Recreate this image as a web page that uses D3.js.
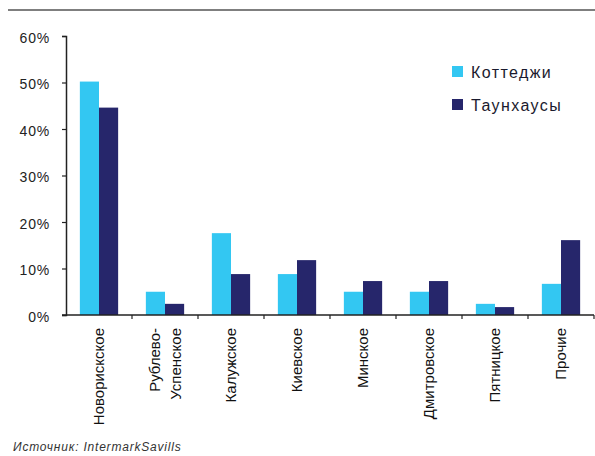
<!DOCTYPE html>
<html>
<head>
<meta charset="utf-8">
<script src="https://cdn.jsdelivr.net/npm/d3@7"></script>
<style>
  html, body { margin: 0; padding: 0; background: #fff; }
  svg { display: block; font-family: Arial, "Liberation Sans", sans-serif; }
</style>
</head>
<body>
<svg id="chart" width="595" height="456"></svg>
<script>
// Directions (highways) around Moscow; multi-line names use "\n"
const categories = ["Новорискское", "Рублево-\nУспенское", "Калужское", "Киевское",
                    "Минское", "Дмитровское", "Пятницкое", "Прочие"];
const seriesNames = ["Коттеджи", "Таунхаусы"];
const cottages  = [50.2, 5.0, 17.6, 8.8, 5.0, 5.0, 2.4, 6.7];
const townhouses = [44.6, 2.4, 8.8, 11.8, 7.3, 7.3, 1.7, 16.1];
const yTicks = [0, 10, 20, 30, 40, 50, 60];
const colors = ["#33C7F2", "#26266B"];
const sourceNote = "Источник: IntermarkSavills";

const svg = d3.select("#chart");
const margin = { left: 66, right: 1, top: 36, bottom: 141 };
const W = 595, H = 456;
const plotW = W - margin.left - margin.right;
const plotH = H - margin.top - margin.bottom;

// top rule
svg.append("line")
  .attr("x1", 8).attr("x2", W).attr("y1", 10).attr("y2", 10)
  .attr("stroke", "#555").attr("stroke-width", 1.5);

const g = svg.append("g").attr("transform", `translate(${margin.left},${margin.top})`);

const x0 = d3.scaleBand().domain(categories).range([0, plotW])
  .paddingInner(0.42).paddingOuter(0.21);
const x1 = d3.scaleBand().domain(seriesNames).range([0, x0.bandwidth()]);
const y = d3.scaleLinear().domain([0, 60]).range([plotH, 0]);

const data = categories.map((c, i) => ({ cat: c, vals: [cottages[i], townhouses[i]] }));

// bars
const groups = g.selectAll("g.grp").data(data).join("g")
  .attr("class", "grp")
  .attr("transform", d => `translate(${x0(d.cat)},0)`);
groups.selectAll("rect").data(d => d.vals.map((v, k) => ({ k, v }))).join("rect")
  .attr("x", d => x1(seriesNames[d.k]))
  .attr("width", x1.bandwidth())
  .attr("y", d => y(d.v))
  .attr("height", d => plotH - y(d.v))
  .attr("fill", d => colors[d.k]);

// y axis
const yAxis = d3.axisLeft(y).tickValues(yTicks).tickSize(4).tickPadding(12)
  .tickFormat(d => d + "%");
const gy = g.append("g").call(yAxis);
gy.select(".domain").attr("stroke", "#222").attr("stroke-width", 1.5);
gy.selectAll(".tick line").attr("stroke", "#222").attr("stroke-width", 1.2);
gy.selectAll(".tick text")
  .attr("font-size", 14).attr("fill", "#222").attr("dy", "0.45em")
  .style("letter-spacing", "0.8px");

// x axis: boundary ticks between categories
const step = x0.step();
const boundaries = d3.range(1, categories.length + 1).map(i => i * step);
const gx = g.append("g").attr("transform", `translate(0,${plotH})`);
gx.append("line").attr("x1", -4).attr("x2", plotW).attr("y1", 0).attr("y2", 0)
  .attr("stroke", "#222").attr("stroke-width", 1.5);
gx.selectAll("line.bt").data(boundaries).join("line")
  .attr("class", "bt")
  .attr("x1", d => d).attr("x2", d => d).attr("y1", 0).attr("y2", 4)
  .attr("stroke", "#222").attr("stroke-width", 1.2);

// rotated category labels
const lineGap = 21;
gx.selectAll("g.lbl").data(categories).join("g")
  .attr("class", "lbl")
  .attr("transform", d => `translate(${x0(d) + x0.bandwidth() / 2},13)`)
  .each(function (d) {
    const lines = d.split("\n");
    const n = lines.length;
    lines.forEach((ln, i) => {
      const off = (i - (n - 1) / 2) * lineGap;
      d3.select(this).append("text")
        .attr("transform", `translate(${off},0) rotate(-90)`)
        .attr("text-anchor", "end")
        .attr("dy", "0.35em")
        .attr("font-size", 15)
        .attr("fill", "#111")
        .text(ln);
    });
  });

// legend
const legend = svg.append("g").attr("transform", "translate(452,66)");
seriesNames.forEach((s, i) => {
  const row = legend.append("g").attr("transform", `translate(0,${i * 33})`);
  row.append("rect").attr("width", 11).attr("height", 11).attr("fill", colors[i]);
  row.append("text").attr("x", 19).attr("y", 11.5)
    .attr("font-size", 16).attr("fill", "#1a1a2e")
    .style("letter-spacing", "1.4px")
    .text(s);
});

// source note
svg.append("text")
  .attr("x", 13).attr("y", 451)
  .attr("font-size", 12).attr("font-style", "italic").attr("fill", "#333")
  .style("letter-spacing", "0.8px")
  .text(sourceNote);
</script>
</body>
</html>
